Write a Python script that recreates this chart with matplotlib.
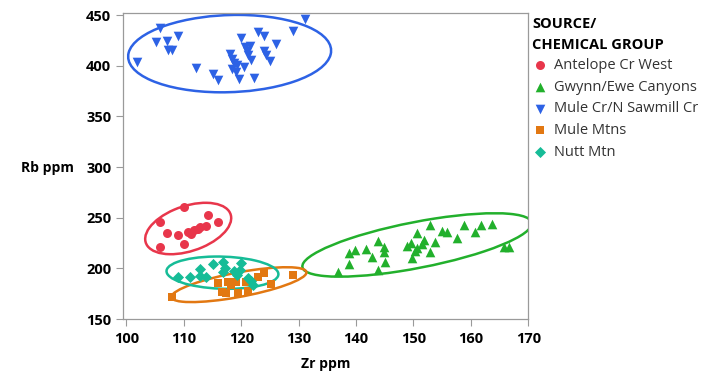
import numpy as np
import matplotlib
matplotlib.use("Agg")
import matplotlib.pyplot as plt
from matplotlib.patches import Ellipse

plt.rcParams["font.family"] = ["Open Sans", "DejaVu Sans"]

# Zr / Rb (ppm) per source group
groups = ["Antelope Cr West", "Gwynn/Ewe Canyons", "Mule Cr/N Sawmill Cr",
          "Mule Mtns", "Nutt Mtn"]
colors = ["#E8364B", "#22B02C", "#2D62E5", "#E27812", "#16BC97"]
markers = ["o", "^", "v", "s", "D"]
sizes = [42, 48, 48, 30, 32]

antelope_zr = [105.9, 110.0, 114.2, 115.9, 107.0, 108.9, 105.9, 110.0, 110.8,
               111.7, 112.9, 113.8, 111.2, 112.4]
antelope_rb = [246.0, 260.9, 253.0, 246.0, 235.1, 233.2, 221.3, 224.3, 236.1,
               238.1, 241.1, 242.1, 234.2, 239.1]

gwynn_zr = [136.8, 138.7, 138.7, 139.9, 141.8, 142.7, 143.75, 144.8, 144.8,
            145.0, 143.9, 148.8, 149.65, 149.8, 150.7, 150.7, 151.4, 151.9,
            152.8, 152.8, 153.8, 154.9, 155.9, 157.6, 158.8, 160.8, 161.8,
            163.7, 165.8, 166.7, 150.2]
gwynn_rb = [196.5, 204.5, 215.3, 218.3, 219.3, 211.4, 227.2, 221.3, 216.3,
            206.4, 198.5, 222.3, 225.2, 210.4, 235.1, 220.3, 224.3, 228.2,
            216.3, 243.1, 226.2, 237.1, 236.1, 230.2, 243.1, 236.1, 243.1,
            244.1, 221.3, 221.3, 217.3]

mule_cr_zr = [101.9, 105.9, 105.1, 107.0, 108.9, 107.2, 107.9, 112.1, 115.0,
              115.9, 118.0, 118.4, 118.7, 118.4, 119.1, 119.6, 119.2, 119.9,
              120.6, 121.0, 121.5, 121.2, 121.7, 120.5, 122.2, 122.9, 124.0,
              124.0, 124.3, 125.0, 126.0, 129.0, 131.1]
mule_cr_rb = [403.4, 437.1, 423.2, 424.2, 429.2, 415.3, 415.3, 397.5, 391.6,
              385.6, 411.4, 406.4, 402.5, 396.5, 393.5, 386.6, 400.5, 427.2,
              418.3, 414.3, 419.3, 410.4, 405.4, 398.5, 387.6, 433.1, 429.2,
              414.3, 410.4, 404.4, 421.3, 434.1, 446.0]

mule_mtns_zr = [108.0, 115.9, 116.6, 117.7, 118.2, 117.3, 119.1, 119.4, 120.8,
                121.2, 122.9, 124.0, 125.2, 129.0, 118.7]
mule_mtns_rb = [171.8, 185.6, 176.7, 186.6, 183.7, 175.7, 186.6, 175.7, 186.6,
                177.7, 191.6, 195.5, 184.6, 193.6, 186.6]

nutt_zr = [108.9, 111.0, 112.8, 112.9, 113.8, 115.0, 116.8, 117.1, 116.8,
           119.9, 119.8, 119.2, 121.2, 121.7, 122.0, 118.7]
nutt_rb = [191.6, 191.6, 199.5, 192.6, 191.6, 204.5, 206.4, 200.5, 196.5,
           205.4, 198.5, 193.6, 190.6, 187.6, 183.7, 197.5]

data = [(antelope_zr, antelope_rb), (gwynn_zr, gwynn_rb),
        (mule_cr_zr, mule_cr_rb), (mule_mtns_zr, mule_mtns_rb),
        (nutt_zr, nutt_rb)]


def density_ellipse(x, y, color, ax, p=0.95):
    """Bivariate normal density ellipse holding fraction p of the group."""
    x = np.asarray(x)
    y = np.asarray(y)
    cov = np.cov(x, y)
    vals, vecs = np.linalg.eigh(cov)
    order = vals.argsort()[::-1]
    vals, vecs = vals[order], vecs[:, order]
    r = np.sqrt(-2 * np.log(1 - p))
    angle = np.degrees(np.arctan2(vecs[1, 0], vecs[0, 0]))
    ell = Ellipse((x.mean(), y.mean()), 2 * r * np.sqrt(vals[0]),
                  2 * r * np.sqrt(vals[1]), angle=angle, fill=False,
                  edgecolor=color, lw=1.8)
    ax.add_patch(ell)


fig = plt.figure(figsize=(7.11, 3.77), dpi=100)
ax = fig.add_axes([0.173, 0.1538, 0.570, 0.8117])

for name, (zr, rb), c, m, s in zip(groups, data, colors, markers, sizes):
    ax.scatter(zr, rb, s=s, marker=m, color=c, linewidths=0, label=name,
               zorder=3)
    density_ellipse(zr, rb, c, ax)

ax.set_xlim(99.4, 170)
ax.set_ylim(150, 452)
ax.set_xticks(range(100, 171, 10))
ax.set_yticks(range(150, 451, 50))
for sp in ax.spines.values():
    sp.set_color("#9A9A9A")
    sp.set_linewidth(0.9)
ax.tick_params(direction="out", length=5, width=0.8, color="#9A9A9A",
               labelsize=10.5, labelcolor="black", pad=2)
ax.tick_params(axis="x", pad=4.5)
ax.tick_params(axis="y", pad=3.5)
for lab in ax.get_xticklabels() + ax.get_yticklabels():
    lab.set_fontweight("bold")

ax.set_xlabel("Zr ppm", fontsize=10, fontweight="bold")
ax.xaxis.set_label_coords(0.5, -0.125)
ax.set_ylabel("Rb ppm", fontsize=10, fontweight="bold", rotation=0,
              ha="right", va="center")
ax.yaxis.set_label_coords(-0.122, 0.493)

leg = ax.legend(title="SOURCE/\nCHEMICAL GROUP", loc="upper left",
                bbox_to_anchor=(0.985, 1.02), frameon=False, fontsize=10.5,
                handletextpad=0.5, labelspacing=0.45, borderaxespad=0.3,
                handlelength=1.0, alignment="left")
leg.get_title().set_fontweight("bold")
leg.get_title().set_fontsize(10.5)
leg.get_title().set_linespacing(1.6)
for t in leg.get_texts():
    t.set_color("#333333")

fig.savefig("out.png", dpi=100)
